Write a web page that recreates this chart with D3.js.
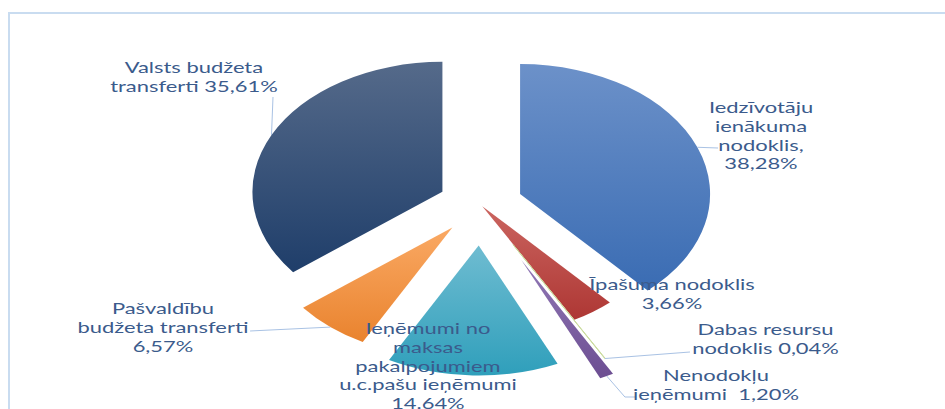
<!DOCTYPE html>
<html>
<head>
<meta charset="utf-8">
<script src="https://cdn.jsdelivr.net/npm/d3@7"></script>
<style>
  html, body { margin: 0; padding: 0; background: #fff; }
  svg { display: block; }
  .lbl { font-family: Lato, "Open Sans", sans-serif; font-size: 15px; fill: #3b5b8c; }
</style>
</head>
<body>
<div id="viz"></div>
<script>
// budget income structure (percent of total)
var categories = [
    'Iedzīvotāju ienākuma nodoklis',
    'Īpašuma nodoklis',
    'Dabas resursu nodoklis',
    'Nenodokļu ieņēmumi',
    'Ieņēmumi no maksas pakalpojumiem u.c.pašu ieņēmumi',
    'Pašvaldību budžeta transferti',
    'Valsts budžeta transferti'
];
var values = [38.28, 3.66, 0.04, 1.20, 14.64, 6.57, 35.61];
var labelLines = [
    ['Iedzīvotāju', 'ienākuma', 'nodoklis,', '38,28%'],
    ['Īpašuma nodoklis', '3,66%'],
    ['Dabas resursu', 'nodoklis 0,04%'],
    ['Nenodokļu', 'ieņēmumi  1,20%'],
    ['Ieņēmumi no', 'maksas', 'pakalpojumiem', 'u.c.pašu ieņēmumi', '14.64%'],
    ['Pašvaldību', 'budžeta transferti', '6,57%'],
    ['Valsts budžeta', 'transferti 35,61%']
];

// styles / layout (not data)
var width = 945, height = 409,
    sx = 1.4615,              // the picture is stretched horizontally
    cx = 328.8, cy = 204.5, radius = 130,
    lineH = 18.8,
    gradColors = [
        ['#6c91c9', '#3a6cb3'],
        ['#cb6560', '#ae3734'],
        ['#b5cc84', '#9bbb59'],
        ['#9178b5', '#6c4e92'],
        ['#6fbcd1', '#2f9fbb'],
        ['#faa964', '#e9832e'],
        ['#556a8a', '#1f3e6a']
    ],
    explode = [29, 2, 46, 62, 41, 30, 29],
    // label first-baseline position (unstretched x) and leader end
    labelPos = [
        {x: 520.7, y: 113, lead: [[491.3, 148]]},
        {x: 459.8, y: 290, lead: null},
        {x: 523.8, y: 335, lead: [[472.1, 352]]},
        {x: 489.9, y: 381, lead: [[427.6, 397], [434.5, 397]]},
        {x: 292.8, y: 334, lead: null},
        {x: 111.5, y: 314, lead: [[171.1, 331]]},
        {x: 132.7, y: 73, lead: [[186.8, 97]]}
    ];

var svg = d3.select('#viz').append('svg')
    .attr('width', width)
    .attr('height', height);

var defs = svg.append('defs');
gradColors.forEach(function (c, i) {
    var g = defs.append('linearGradient')
        .attr('id', 'grad' + i)
        .attr('x1', 0).attr('y1', 0).attr('x2', 0).attr('y2', 1);
    g.append('stop').attr('offset', '0%').attr('stop-color', c[0]);
    g.append('stop').attr('offset', '100%').attr('stop-color', c[1]);
});

// chart frame
svg.append('path')
    .attr('d', 'M9,' + (height + 5) + 'V13H' + (width + 5))
    .attr('fill', 'none')
    .attr('stroke', '#c9dcf0')
    .attr('stroke-width', 2);

var chart = svg.append('g').attr('transform', 'scale(' + sx + ',1)');

var pie = d3.pie().sort(null).value(function (d) { return d; });
var arcs = pie(values);
var arc = d3.arc().innerRadius(0).outerRadius(radius);

function offset(d, i) {
    var mid = (d.startAngle + d.endAngle) / 2;
    return [cx + explode[i] * Math.sin(mid), cy - explode[i] * Math.cos(mid)];
}

chart.selectAll('path.slice')
    .data(arcs)
    .enter().append('path')
    .attr('class', 'slice')
    .attr('transform', function (d, i) {
        var o = offset(d, i);
        return 'translate(' + o[0] + ',' + o[1] + ')';
    })
    .attr('d', arc)
    .attr('fill', function (d, i) { return 'url(#grad' + i + ')'; })
    .attr('stroke', function (d, i) { return i === 2 ? '#cbdc9f' : 'none'; })
    .attr('stroke-width', 1)
    .style('vector-effect', 'non-scaling-stroke');

// leader lines from the slice edge at its mid angle
arcs.forEach(function (d, i) {
    var lp = labelPos[i];
    if (!lp.lead) { return; }
    var o = offset(d, i),
        mid = (d.startAngle + d.endAngle) / 2,
        pts = [[o[0] + radius * Math.sin(mid), o[1] - radius * Math.cos(mid)]].concat(lp.lead);
    chart.append('path')
        .attr('d', d3.line()(pts))
        .attr('fill', 'none')
        .attr('stroke', '#a9c2e4')
        .attr('stroke-width', 1)
        .style('vector-effect', 'non-scaling-stroke');
});

var labels = chart.selectAll('text.lbl')
    .data(labelLines)
    .enter().append('text')
    .attr('class', 'lbl')
    .attr('text-anchor', 'middle')
    .attr('xml:space', 'preserve');

labels.selectAll('tspan')
    .data(function (d, i) {
        return d.map(function (t, j) { return {t: t, i: i, j: j}; });
    })
    .enter().append('tspan')
    .attr('x', function (d) { return labelPos[d.i].x; })
    .attr('y', function (d) { return labelPos[d.i].y + d.j * lineH; })
    .text(function (d) { return d.t; });
</script>
</body>
</html>
